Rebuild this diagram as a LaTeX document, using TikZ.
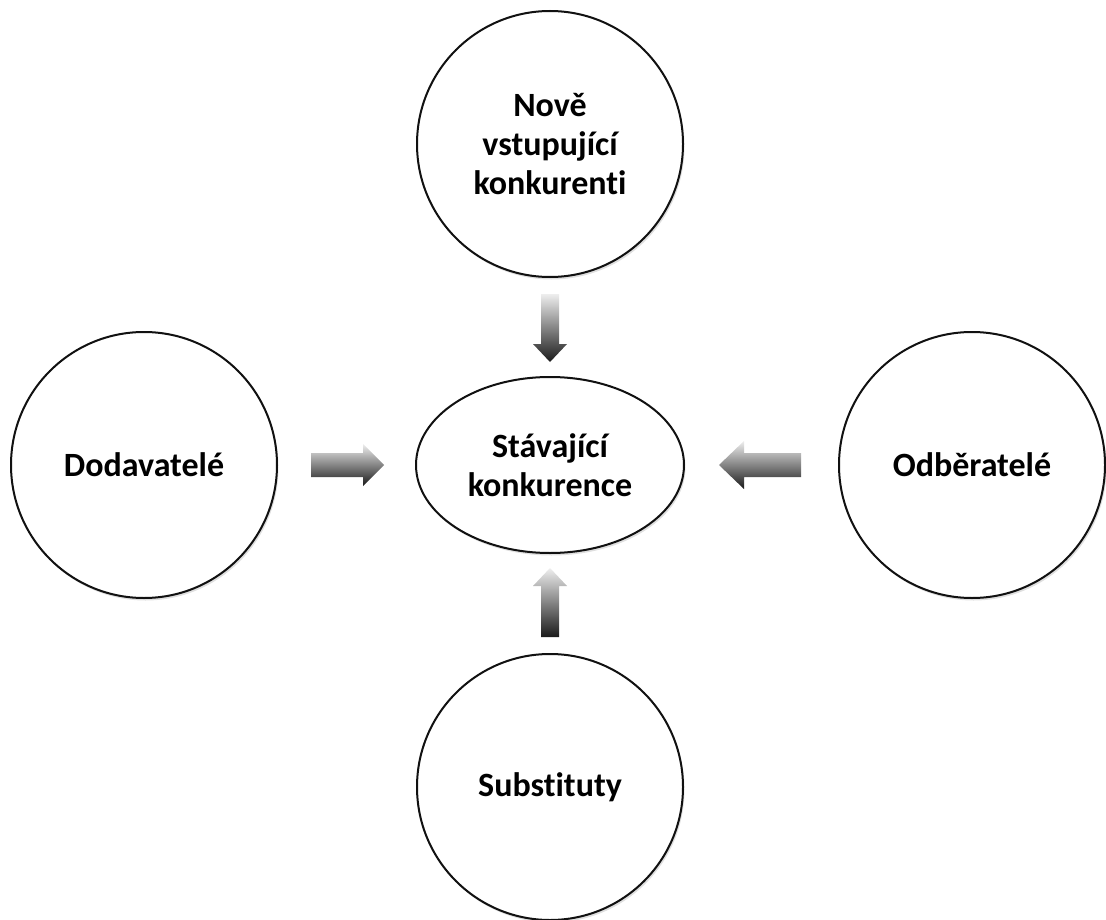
\documentclass[tikz,border=0pt]{standalone}
\usepackage{fontspec}
\setmainfont{Carlito}[Ligatures=NoCommon]
\usepackage{tikz}
\usetikzlibrary{calc,shapes.geometric,shadows}
\definecolor{linec}{HTML}{111111}
\definecolor{lightc}{HTML}{EEEEEE}
\definecolor{darkc}{HTML}{1A1A1A}
\tikzset{
  bub/.style={circle,draw=linec,line width=2pt,fill=white,minimum size=266pt,inner sep=0pt,
    align=center,font=\bfseries\fontsize{34}{39}\selectfont,
    drop shadow={shadow xshift=1.5pt,shadow yshift=-2.5pt,opacity=0.25}},
  mid/.style={bub,ellipse,minimum width=268pt,minimum height=176pt},
  % block arrow: #1 half shaft, #2 half head, #3 head length
  blk/.style n args={3}{top color=lightc,bottom color=darkc,draw=none,
    to path={($(\tikztotarget)!#3!(\tikztostart)$) coordinate (hb)
      ($(\tikztostart)!#1!90:(\tikztotarget)$) -- ($(hb)!#1!-90:(\tikztostart)$)
      -- ($(hb)!#2!-90:(\tikztostart)$) -- (\tikztotarget)
      -- ($(hb)!#2!90:(\tikztostart)$) -- ($(hb)!#1!90:(\tikztostart)$)
      -- ($(\tikztostart)!#1!-90:(\tikztotarget)$) -- cycle}}
}
\begin{document}
\begin{tikzpicture}[x=1pt,y=-1pt]
\useasboundingbox (0,0) rectangle (1106,920);
\node[bub] (nov) at (550,144) {Nově\\vstupující\\konkurenti};
\node[bub] (dod) at (144,465) {Dodavatelé};
\node[bub] (odb) at (972,465) {Odběratelé};
\node[bub] (sub) at (550,787) {Substituty};
\node[mid] (stv) at (550,465) {Stávající\\konkurence};
% arrows into the middle
\shade[blk={12pt}{21pt}{21pt}] ($(dod.east)+(33,0)$) to ($(stv.west)+(-31,0)$);
\shade[blk={12pt}{24pt}{25pt}] ($(odb.west)+(-37,0)$) to ($(stv.east)+(34,0)$);
\shade[blk={9pt}{17pt}{18pt}] ($(nov.south)+(0,16)$) to ($(stv.north)+(0,-14)$);
\shade[blk={9pt}{17pt}{18pt}] ($(sub.north)+(0,-16)$) to ($(stv.south)+(0,14)$);
\end{tikzpicture}
\end{document}
